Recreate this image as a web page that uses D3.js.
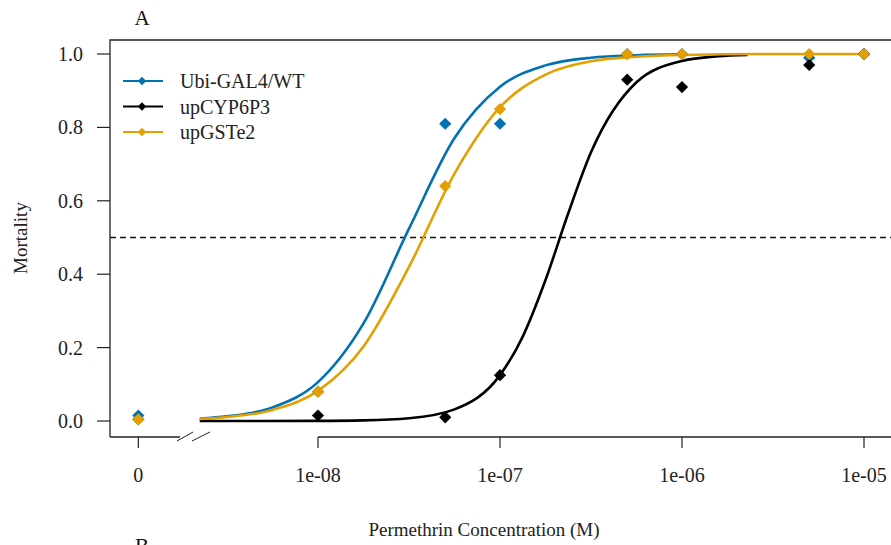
<!DOCTYPE html>
<html>
<head>
<meta charset="utf-8">
<script src="https://cdn.jsdelivr.net/npm/d3@7"></script>
<style>
  body { margin: 0; background: #fff; }
  text { font-family: "Liberation Serif", "Times New Roman", serif; }
</style>
</head>
<body>
<svg id="canvas" width="891" height="545"></svg>
<script>
// dosi (M), lo zero viene disegnato a parte prima della interruzione
const dosi = [0, 1e-8, 5e-8, 1e-7, 5e-7, 1e-6, 5e-6, 1e-5];
const serie = ["Ubi-GAL4/WT", "upCYP6P3", "upGSTe2"];
const colori = ["#0072B2", "#000000", "#E69F00"];

const mortWT = [0.015, 0.08, 0.81, 0.81, 1.0, 1.0, 0.99, 1.0];
const mortCYP = [0.005, 0.015, 0.01, 0.125, 0.93, 0.91, 0.97, 1.0];
const mortGST = [0.005, 0.08, 0.64, 0.85, 1.0, 1.0, 1.0, 1.0];

// curve stimate (log10 dose, mortalita)
const curvaWT_log = [-8.65, -8.5, -8.25, -8, -7.75, -7.5, -7.25, -7, -6.75, -6.5, -6.25, -6];
const curvaWT_val = [0.0065, 0.0126, 0.037, 0.106, 0.266, 0.524, 0.771, 0.911, 0.969, 0.990, 0.9966, 0.9989];
const curvaCYP_log = [-8.65, -8, -7.75, -7.5, -7.25, -7, -6.875, -6.75, -6.625, -6.5, -6.25, -6, -5.8, -5.64];
const curvaCYP_val = [0.0, 0.0004, 0.0017, 0.0074, 0.0317, 0.125, 0.23, 0.384, 0.566, 0.732, 0.923, 0.981, 0.994, 0.9977];
const curvaGST_log = [-8.65, -8.5, -8.25, -8, -7.75, -7.5, -7.25, -7, -6.75, -6.5, -6.25, -6, -5.5, -5];
const curvaGST_val = [0.0058, 0.0109, 0.030, 0.082, 0.203, 0.420, 0.674, 0.855, 0.944, 0.980, 0.9927, 0.9974, 1.0, 1.0];

const tickX = [0, 1e-8, 1e-7, 1e-6, 1e-5];
const etichetteX = ["0", "1e-08", "1e-07", "1e-06", "1e-05"];
const tickY = [0, 0.2, 0.4, 0.6, 0.8, 1.0];

const svg = d3.select("#canvas");
svg.append("rect").attr("width", 891).attr("height", 545).attr("fill", "#fff");

const sinistra = 110, alto = 40, basso = 437;
const zeroProxy = 1.03e-9;

const scalaX = d3.scaleLog().domain([1e-8, 1e-5]).range([318, 864]);
const scalaY = d3.scaleLinear().domain([0, 1]).range([421, 54]);
const posX = d => d === 0 ? scalaX(zeroProxy) : scalaX(d);

// cornice
svg.append("path")
  .attr("d", `M${sinistra},${basso} V${alto} H891`)
  .attr("fill", "none").attr("stroke", "#222").attr("stroke-width", 1.3);
svg.append("line")
  .attr("x1", sinistra).attr("x2", 180).attr("y1", basso).attr("y2", basso)
  .attr("stroke", "#222").attr("stroke-width", 1.3);
svg.append("line")
  .attr("x1", scalaX(1e-8)).attr("x2", 891).attr("y1", basso).attr("y2", basso)
  .attr("stroke", "#222").attr("stroke-width", 1.3);
// interruzione asse
[[177, 193], [192, 210]].forEach(([a, b]) => {
  svg.append("line")
    .attr("x1", a).attr("y1", 441).attr("x2", b).attr("y2", 432)
    .attr("stroke", "#222").attr("stroke-width", 1);
});

// asse y
const gy = svg.append("g");
tickY.forEach(v => {
  gy.append("line").attr("x1", 97).attr("x2", sinistra)
    .attr("y1", scalaY(v)).attr("y2", scalaY(v))
    .attr("stroke", "#222").attr("stroke-width", 1.2);
  gy.append("text").attr("x", 83).attr("y", scalaY(v) + 7)
    .attr("text-anchor", "end").attr("font-size", 20).attr("fill", "#222")
    .text(d3.format(".1f")(v));
});

// asse x
const gx = svg.append("g");
tickX.forEach((v, i) => {
  gx.append("line").attr("x1", posX(v)).attr("x2", posX(v))
    .attr("y1", basso).attr("y2", 448)
    .attr("stroke", "#222").attr("stroke-width", 1.2);
  gx.append("text").attr("x", posX(v)).attr("y", 482)
    .attr("text-anchor", "middle").attr("font-size", 20).attr("fill", "#222")
    .text(etichetteX[i]);
});

// titoli
svg.append("text").attr("x", 142).attr("y", 25).attr("text-anchor", "middle")
  .attr("font-size", 21).attr("fill", "#111").text("A");
svg.append("text").attr("x", 142).attr("y", 553).attr("text-anchor", "middle")
  .attr("font-size", 21).attr("fill", "#111").text("B");
svg.append("text").attr("x", 484).attr("y", 536).attr("text-anchor", "middle")
  .attr("font-size", 19).attr("fill", "#222").text("Permethrin Concentration (M)");
svg.append("text").attr("transform", "translate(27,238) rotate(-90)")
  .attr("text-anchor", "middle").attr("font-size", 19).attr("fill", "#222").text("Mortality");

// linea LC50
svg.append("line")
  .attr("x1", sinistra).attr("x2", 891).attr("y1", scalaY(0.5)).attr("y2", scalaY(0.5))
  .attr("stroke", "#111").attr("stroke-width", 1.4).attr("stroke-dasharray", "6,4");

// curve
const linea = d3.line()
  .x(d => scalaX(Math.pow(10, d[0])))
  .y(d => scalaY(d[1]))
  .curve(d3.curveMonotoneX);

const curve = [
  d3.zip(curvaWT_log, curvaWT_val),
  d3.zip(curvaCYP_log, curvaCYP_val),
  d3.zip(curvaGST_log, curvaGST_val)
];
curve.forEach((c, i) => {
  svg.append("path").datum(c)
    .attr("d", linea)
    .attr("fill", "none").attr("stroke", colori[i]).attr("stroke-width", 2.6);
});

// punti
const rombo = d3.symbol().type(d3.symbolDiamond2).size(95);
[mortWT, mortCYP, mortGST].forEach((valori, i) => {
  svg.append("g").selectAll("path")
    .data(d3.zip(dosi, valori))
    .enter()
    .append("path")
    .attr("d", rombo)
    .attr("fill", colori[i])
    .attr("transform", d => `translate(${posX(d[0])},${scalaY(d[1])})`);
});

// legenda
const leg = svg.append("g");
serie.forEach((s, i) => {
  const y = 81 + i * 25.5;
  leg.append("line").attr("x1", 123).attr("x2", 163).attr("y1", y).attr("y2", y)
    .attr("stroke", colori[i]).attr("stroke-width", 2);
  leg.append("path").attr("d", d3.symbol().type(d3.symbolDiamond2).size(45))
    .attr("fill", colori[i]).attr("transform", `translate(142,${y})`);
  leg.append("text").attr("x", 180).attr("y", y + 7)
    .attr("font-size", 20).attr("fill", "#222").text(s);
});
</script>
</body>
</html>
